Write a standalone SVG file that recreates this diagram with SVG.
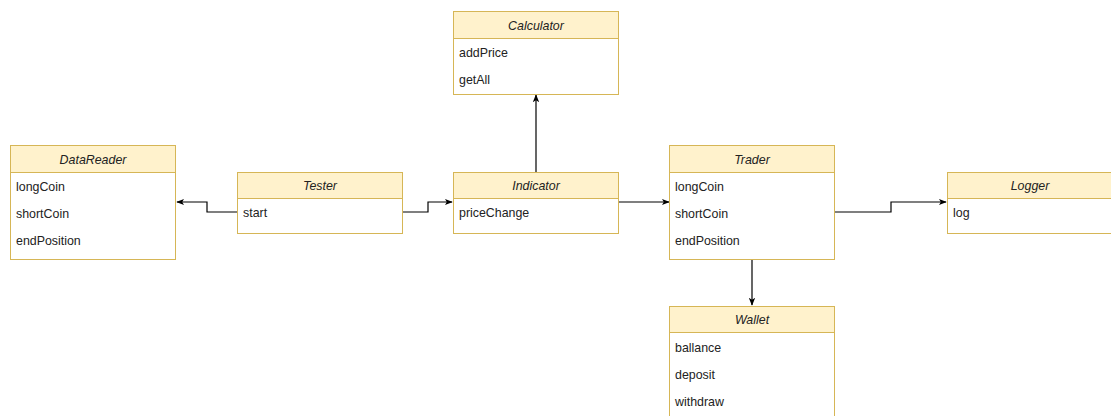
<svg xmlns="http://www.w3.org/2000/svg" width="1111" height="416" viewBox="0 0 1111 416">
<style>
.hd{fill:#fff2cc;stroke:#d6b656;stroke-width:1}
.bd{fill:#ffffff;stroke:#d6b656;stroke-width:1}
.t{font-family:"Liberation Sans",Arial,sans-serif;font-size:12.4px;fill:#222}
.h{font-style:italic;text-anchor:middle}
.c{fill:none;stroke:#000;stroke-width:1.2}
</style>
<defs>
<marker id="a" viewBox="0 0 10 10" refX="9" refY="5" markerWidth="8" markerHeight="8" markerUnits="userSpaceOnUse" orient="auto">
<path d="M0,1 L10,5 L0,9 L2.5,5 Z" fill="#000"/>
</marker>
</defs>
<rect width="1111" height="416" fill="#fff"/>
<g id="connectors">
<path class="c" d="M237,212 H207 V202 H177" marker-end="url(#a)"/>
<path class="c" d="M402,212 H428 V202 H452" marker-end="url(#a)"/>
<path class="c" d="M536,172 V95" marker-end="url(#a)"/>
<path class="c" d="M618,202 H669" marker-end="url(#a)"/>
<path class="c" d="M835,212 H891 V202 H946" marker-end="url(#a)"/>
<path class="c" d="M752,259 V305" marker-end="url(#a)"/>
</g>
<g id="DataReader">
<rect class="bd" x="10.5" y="145.5" width="165" height="114"/>
<rect class="hd" x="10.5" y="145.5" width="165" height="27"/>
<text class="t h" x="93" y="163.5">DataReader</text>
<text class="t" x="16" y="191">longCoin</text>
<text class="t" x="16" y="218">shortCoin</text>
<text class="t" x="16" y="245">endPosition</text>
</g>
<g id="Tester">
<rect class="bd" x="237.5" y="172.5" width="165" height="61"/>
<rect class="hd" x="237.5" y="172.5" width="165" height="26"/>
<text class="t h" x="320" y="190">Tester</text>
<text class="t" x="243" y="217">start</text>
</g>
<g id="Calculator">
<rect class="bd" x="453.5" y="11.5" width="165" height="83"/>
<rect class="hd" x="453.5" y="11.5" width="165" height="27"/>
<text class="t h" x="536" y="29.5">Calculator</text>
<text class="t" x="459" y="56.5">addPrice</text>
<text class="t" x="459" y="84">getAll</text>
</g>
<g id="Indicator">
<rect class="bd" x="453.5" y="172.5" width="165" height="61"/>
<rect class="hd" x="453.5" y="172.5" width="165" height="26"/>
<text class="t h" x="536" y="190">Indicator</text>
<text class="t" x="459" y="217">priceChange</text>
</g>
<g id="Trader">
<rect class="bd" x="669.5" y="145.5" width="165" height="114"/>
<rect class="hd" x="669.5" y="145.5" width="165" height="27"/>
<text class="t h" x="752" y="163.5">Trader</text>
<text class="t" x="675" y="191">longCoin</text>
<text class="t" x="675" y="218">shortCoin</text>
<text class="t" x="675" y="245">endPosition</text>
</g>
<g id="Logger">
<rect class="bd" x="947.5" y="172.5" width="165" height="61"/>
<rect class="hd" x="947.5" y="172.5" width="165" height="26"/>
<text class="t h" x="1030" y="190">Logger</text>
<text class="t" x="953" y="217">log</text>
</g>
<g id="Wallet">
<rect class="bd" x="669.5" y="306.5" width="165" height="120"/>
<rect class="hd" x="669.5" y="306.5" width="165" height="26"/>
<text class="t h" x="752" y="324">Wallet</text>
<text class="t" x="675" y="351.5">ballance</text>
<text class="t" x="675" y="378.5">deposit</text>
<text class="t" x="675" y="405.5">withdraw</text>
</g>
</svg>
